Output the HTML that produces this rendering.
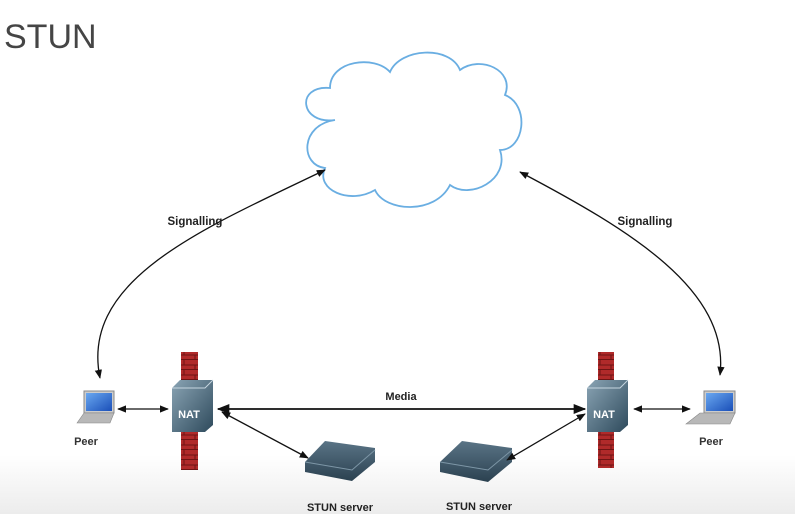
<!DOCTYPE html>
<html><head><style>
html,body{margin:0;padding:0;}
body{width:795px;height:514px;overflow:hidden;background:linear-gradient(#fff 0,#fff 455px,#ececec 514px);font-family:"Liberation Sans",sans-serif;}
</style></head><body>
<svg width="795" height="514" viewBox="0 0 795 514" xmlns="http://www.w3.org/2000/svg">
<defs>
<marker id="a" viewBox="0 0 10 10" refX="9" refY="5" markerWidth="7" markerHeight="7" orient="auto-start-reverse"><path d="M0,1 L10,5 L0,9 z" fill="#111"/></marker>
<linearGradient id="nat" x1="0" y1="0" x2="1" y2="1"><stop offset="0" stop-color="#8aa4b4"/><stop offset="1" stop-color="#2e4a5c"/></linearGradient>
<linearGradient id="srv" x1="0" y1="0" x2="0" y2="1"><stop offset="0" stop-color="#5a7486"/><stop offset="1" stop-color="#2b4150"/></linearGradient>
<linearGradient id="scr" x1="0" y1="0" x2="1" y2="1"><stop offset="0" stop-color="#6aa8f0"/><stop offset="1" stop-color="#1a4fb8"/></linearGradient>
<pattern id="brick" width="16" height="10" patternUnits="userSpaceOnUse"><rect width="16" height="10" fill="#b02a2a"/><path d="M0,9.5H16M8,0V5M0,5H16M3,5V10" stroke="#6e1414" stroke-width="1" fill="none"/></pattern>
</defs>
<text x="4" y="48" font-size="34" fill="#454545" font-family="Liberation Sans, sans-serif">STUN</text>
<!-- cloud -->
<path d="M335,120 C300,125 295,85 330,88 C330,60 375,55 390,72 C400,48 450,45 460,70 C480,55 515,70 505,95 C530,105 525,150 500,150 C510,180 470,200 450,185 C435,215 385,212 375,190 C350,205 315,190 325,168 C300,165 300,125 335,120 Z" fill="#fff" stroke="#6aaee2" stroke-width="1.8"/>
<!-- signalling -->
<path d="M325,170 C200,230 80,280 100,378" fill="none" stroke="#111" stroke-width="1.3" marker-start="url(#a)" marker-end="url(#a)"/>
<path d="M520,172 C630,230 730,290 720,375" fill="none" stroke="#111" stroke-width="1.3" marker-start="url(#a)" marker-end="url(#a)"/>
<text x="195" y="225" font-size="11.5" font-weight="bold" text-anchor="middle" fill="#222">Signalling</text>
<text x="645" y="225" font-size="11.5" font-weight="bold" text-anchor="middle" fill="#222">Signalling</text>
<!-- firewalls -->
<rect x="181" y="352" width="17" height="118" fill="url(#brick)"/>
<rect x="598" y="352" width="16" height="116" fill="url(#brick)"/>
<!-- NAT boxes -->
<g><path d="M172,388 L180,380 L213,380 L213,425 L205,432 L172,432 Z" fill="url(#nat)"/><path d="M172,388 L205,388 L213,380" fill="none" stroke="#c6d6e0" stroke-width="1"/><text x="189" y="418" font-size="11" font-weight="bold" fill="#fff" text-anchor="middle">NAT</text></g>
<g><path d="M587,388 L595,380 L628,380 L628,425 L620,432 L587,432 Z" fill="url(#nat)"/><path d="M587,388 L620,388 L628,380" fill="none" stroke="#c6d6e0" stroke-width="1"/><text x="604" y="418" font-size="11" font-weight="bold" fill="#fff" text-anchor="middle">NAT</text></g>
<!-- laptops -->
<g><rect x="84" y="391" width="30" height="22" fill="#ccc" stroke="#888"/><rect x="86" y="393" width="26" height="18" fill="url(#scr)"/><path d="M77,423 L84,413 L114,413 L110,423 Z" fill="#b8b8b8" stroke="#888" stroke-width="0.6"/></g>
<text x="86" y="445" font-size="11" font-weight="bold" text-anchor="middle" fill="#333">Peer</text>
<g><rect x="704" y="391" width="31" height="22" fill="#ccc" stroke="#888"/><rect x="706" y="393" width="27" height="18" fill="url(#scr)"/><path d="M686,424 L700,413 L735,413 L730,424 Z" fill="#b8b8b8" stroke="#888" stroke-width="0.6"/></g>
<text x="711" y="445" font-size="11" font-weight="bold" text-anchor="middle" fill="#333">Peer</text>
<!-- servers -->
<path d="M305,462 L325,441 L375,448 L375,462 L352,481 L305,472 Z" fill="url(#srv)"/><path d="M305,462 L352,470 L375,450" fill="none" stroke="#7d96a6" stroke-width="1"/>
<path d="M440,462 L462,441 L512,448 L512,462 L488,482 L440,472 Z" fill="url(#srv)"/><path d="M440,462 L488,470 L512,450" fill="none" stroke="#7d96a6" stroke-width="1"/>
<text x="340" y="511" font-size="11" font-weight="bold" text-anchor="middle" fill="#222">STUN server</text>
<text x="479" y="510" font-size="11" font-weight="bold" text-anchor="middle" fill="#222">STUN server</text>
<!-- arrows -->
<g stroke="#111" stroke-width="1.3" fill="none">
<line x1="118" y1="409" x2="168" y2="409" marker-start="url(#a)" marker-end="url(#a)"/>
<line x1="218" y1="409" x2="585" y2="409" stroke-width="1.8" marker-start="url(#a)" marker-end="url(#a)"/>
<line x1="222" y1="412" x2="308" y2="458" marker-start="url(#a)" marker-end="url(#a)"/>
<line x1="507" y1="460" x2="585" y2="414" marker-start="url(#a)" marker-end="url(#a)"/>
<line x1="634" y1="409" x2="690" y2="409" marker-start="url(#a)" marker-end="url(#a)"/>
</g>
<text x="401" y="400" font-size="11" font-weight="bold" text-anchor="middle" fill="#222">Media</text>
</svg>
</body></html>
